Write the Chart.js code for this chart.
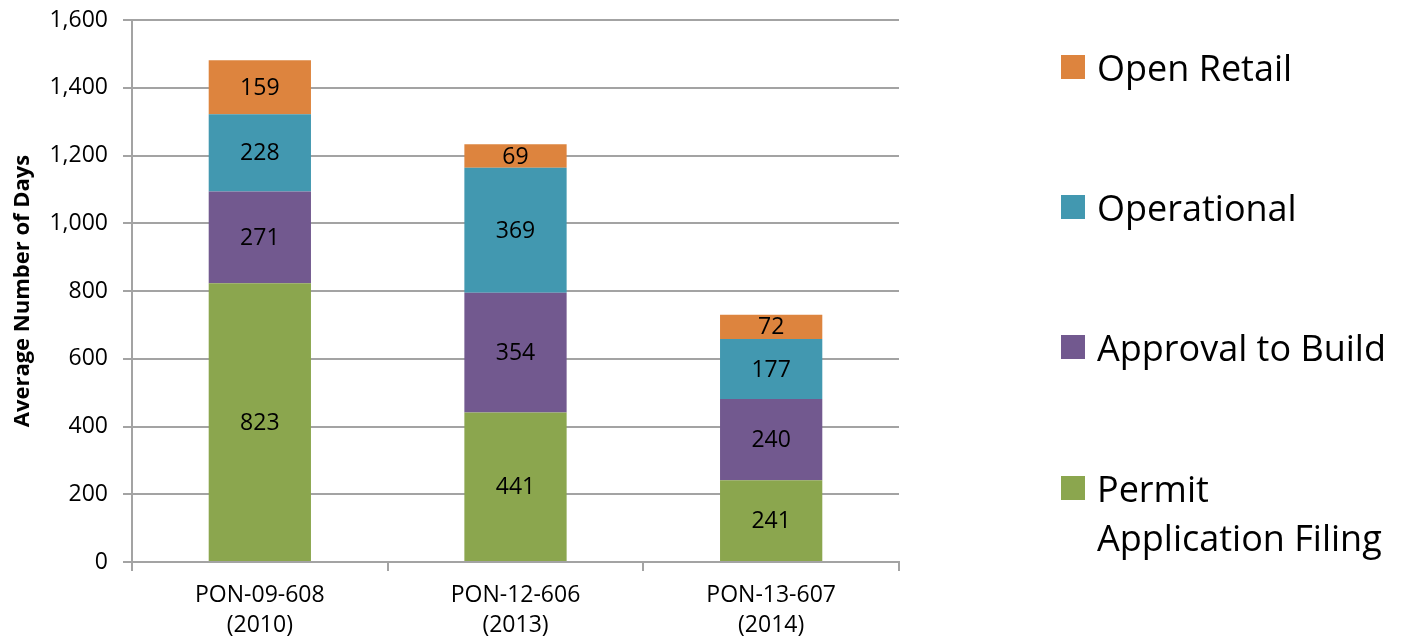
<!DOCTYPE html>
<html>
<head>
<meta charset="utf-8">
<script src="https://cdn.jsdelivr.net/npm/chart.js@4.4.1/dist/chart.umd.min.js"></script>
<style>
  html, body { margin: 0; padding: 0; background: #fff; }
  #wrap { position: relative; width: 1401px; height: 641px; }
  #legend { position: absolute; left: 0; top: 0; font-family: "Open Sans", sans-serif; font-size: 36px; color: #000; }
  .item { position: absolute; left: 1061px; display: flex; align-items: flex-start; line-height: 49px; white-space: nowrap; }
  .box { width: 24px; height: 24px; margin-top: 12.5px; margin-right: 12px; flex: none; }
</style>
</head>
<body>
<div id="wrap">
  <canvas id="c" width="1401" height="641"></canvas>
  <div id="legend"></div>
</div>
<script>
// ---- data ----
const categories = [["PON-09-608", "(2010)"], ["PON-12-606", "(2013)"], ["PON-13-607", "(2014)"]];
const permitApplicationFiling = [823, 441, 241];
const approvalToBuild = [271, 354, 240];
const operational = [228, 369, 177];
const openRetail = [159, 69, 72];
const yTicks = [0, 200, 400, 600, 800, 1000, 1200, 1400, 1600];
const seriesNames = ["Permit\nApplication Filing", "Approval to Build", "Operational", "Open Retail"];
const seriesColors = ["#8BA64E", "#72598F", "#4298B0", "#DD843E"];
const yTitle = "Average Number of Days";

const seriesValues = [permitApplicationFiling, approvalToBuild, operational, openRetail];
const FONT = '"Open Sans", sans-serif';
const GRID = '#a3a3a3';

const dataLabels = {
  id: 'dataLabels',
  afterDatasetsDraw(chart) {
    const ctx = chart.ctx;
    ctx.save();
    ctx.font = '23px ' + FONT;
    ctx.fillStyle = '#000';
    ctx.textAlign = 'center';
    ctx.textBaseline = 'middle';
    chart.data.datasets.forEach((ds, i) => {
      const meta = chart.getDatasetMeta(i);
      meta.data.forEach((el, j) => {
        const v = ds.data[j];
        ctx.fillText(String(v), el.x, (el.y + el.base) / 2 + 1);
      });
    });
    ctx.restore();
  }
};

const chart = new Chart(document.getElementById('c'), {
  type: 'bar',
  data: {
    labels: categories,
    datasets: seriesValues.map((vals, i) => ({
      label: seriesNames[i],
      data: vals,
      backgroundColor: seriesColors[i],
      borderWidth: 0,
      categoryPercentage: 1.0,
      barPercentage: 0.4
    }))
  },
  options: {
    responsive: false,
    animation: false,
    layout: { padding: { top: 20, right: 502, left: 0, bottom: 0 } },
    plugins: { legend: { display: false }, tooltip: { enabled: false } },
    scales: {
      x: {
        stacked: true,
        grid: { display: true, drawOnChartArea: false, drawTicks: true, tickLength: 9, color: GRID, lineWidth: 2 },
        border: { display: true, color: GRID, width: 2 },
        ticks: { color: '#000', font: { family: FONT, size: 23, lineHeight: 1.3 }, padding: 10, maxRotation: 0 },
        afterFit(s) { s.height = 79; }
      },
      y: {
        stacked: true,
        min: 0,
        max: 1600,
        afterBuildTicks(s) { s.ticks = yTicks.map(v => ({ value: v })); },
        grid: { color: GRID, lineWidth: 2, tickLength: 9 },
        border: { display: true, color: GRID, width: 2 },
        ticks: {
          color: '#000', padding: 15,
          font: { family: FONT, size: 23 },
          callback: v => v.toLocaleString('en-US')
        },
        title: { display: true, text: yTitle, color: '#000', font: { family: FONT, size: 22, weight: 'bold' }, padding: { top: 10, bottom: 4 } },
        afterFit(s) { s.width = 132; s.paddingTop = 0; s.paddingBottom = 0; }
      }
    }
  },
  plugins: [dataLabels]
});

// HTML legend (reverse order, top = last series)
const legend = document.getElementById('legend');
const centers = [488, 347, 207, 67];
seriesNames.forEach((name, i) => {
  const item = document.createElement('div');
  item.className = 'item';
  item.style.top = (centers[i] - 24.5) + 'px';
  const box = document.createElement('div');
  box.className = 'box';
  box.style.background = seriesColors[i];
  const txt = document.createElement('div');
  txt.innerHTML = name.split('\n').map(s => s.replace(/&/g, '&amp;')).join('<br>');
  item.appendChild(box);
  item.appendChild(txt);
  legend.appendChild(item);
});
</script>
</body>
</html>
